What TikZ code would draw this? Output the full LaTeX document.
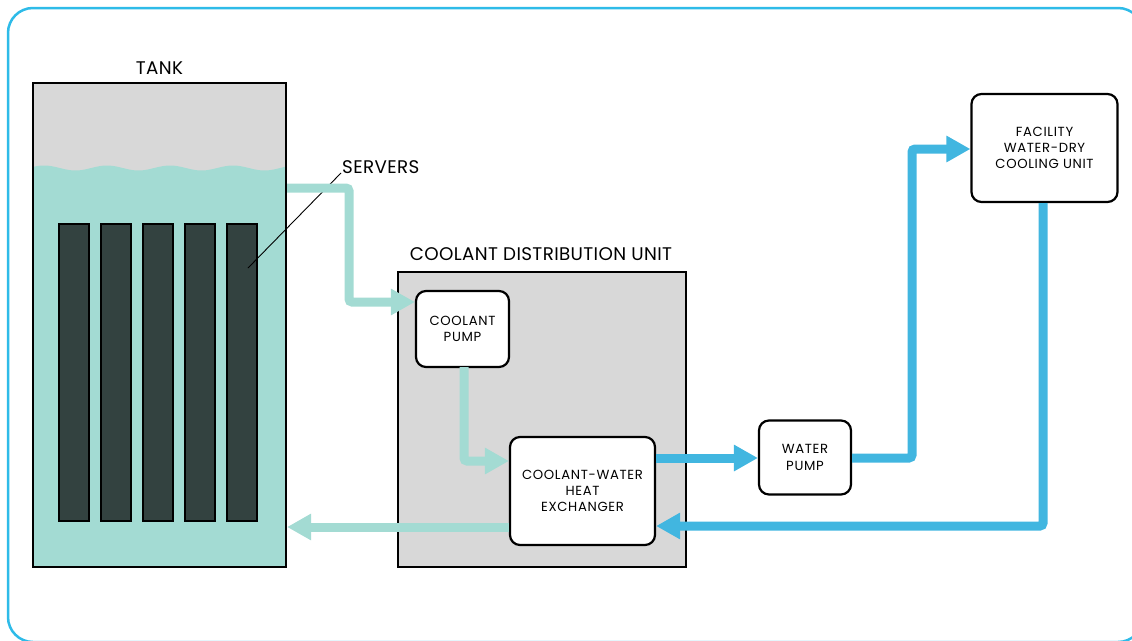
\documentclass[tikz,border=0pt]{standalone}
\usepackage{fontspec}
\setmainfont{Poppins}
\newfontfamily\titlefont[LetterSpace=2]{Poppins}
\newfontfamily\unitfont[LetterSpace=5]{Poppins}
\usetikzlibrary{arrows.meta}
\definecolor{teal1}{HTML}{A3DBD3}
\definecolor{blue1}{HTML}{41B6E0}
\definecolor{frameblue}{HTML}{2EBBE8}
\definecolor{srv}{HTML}{334240}
\definecolor{gray1}{HTML}{D8D8D8}
\tikzset{
  unit/.style={draw=black, line width=2.2pt, fill=white, rounded corners=10pt, align=center, font=\unitfont\fontsize{13.2}{16.2}\selectfont, inner sep=0pt},
  title/.style={font=\titlefont\fontsize{18.3}{20}\selectfont, inner sep=0pt},
  tealflow/.style={draw=teal1, line width=9pt, rounded corners=3pt, -{Triangle[width=25pt,length=24pt]}},
  blueflow/.style={draw=blue1, line width=9pt, rounded corners=3pt, -{Triangle[width=25pt,length=24pt]}},
  server/.style={draw=black, line width=1.2pt, fill=srv},
}
\begin{document}
\begin{tikzpicture}[x=1pt,y=-1pt]
\useasboundingbox (0,0) rectangle (1132,640);
\clip (0,0) rectangle (1132,640);
% outer frame
\draw[frameblue, line width=2.5pt, rounded corners=25pt] (8,8) rectangle (1143,642);
% tank
\fill[gray1] (33,83) rectangle (286,567);
\fill[teal1] plot[domain=33:286, samples=80] (\x, {168-2.5*cos(5.714*(\x-107))}) -- (286,567) -- (33,567) -- cycle;
\node[draw=black, line width=2.2pt, minimum width=253pt, minimum height=484pt, inner sep=0pt] (tank) at (159.5,325) {};
\node[title] (tanklbl) at (159.5,68) {TANK};
% servers
\foreach \i/\x in {1/74, 2/116, 3/158, 4/200, 5/242}{
  \node[server, minimum width=30pt, minimum height=297pt, inner sep=0pt] (s\i) at (\x,372.5) {};
}
\node[title, anchor=west] (serverslbl) at (342,167) {SERVERS};
\coordinate (sl) at (341,173);
\coordinate (sp) at (248,268);
\draw[black, line width=0.9pt] (sl) -- (sp);
% CDU
\node[draw=black, line width=2.2pt, fill=gray1, minimum width=288pt, minimum height=295pt, inner sep=0pt] (cdu) at (542,419.5) {};
\node[title] (cdulbl) at (541,254) {COOLANT DISTRIBUTION UNIT};
% units
\node[unit, minimum width=93pt, minimum height=76pt] (pump) at (462.5,329) {COOLANT\\PUMP};
\node[unit, minimum width=145pt, minimum height=108pt] (hx) at (582.5,491) {COOLANT-WATER\\HEAT\\EXCHANGER};
\node[unit, minimum width=92pt, minimum height=74pt] (wp) at (805,457.5) {WATER\\PUMP};
\node[unit, minimum width=146pt, minimum height=108pt] (fac) at (1044.5,148) {FACILITY\\WATER-DRY\\COOLING UNIT};
% coolant flows
\draw[tealflow] (tank.east |- 0,188) -- (349,188) -- (349,302) -- (pump.west |- 0,302);
\draw[tealflow] (464,367) -- (464,461) -- (hx.west |- 0,461);
\draw[tealflow] (hx.west |- 0,527) -- (tank.east |- 0,527);
% water flows
\draw[blueflow] (hx.east |- 0,458) -- (wp.west |- 0,458);
\draw[blueflow] (wp.east |- 0,458) -- (912,458) -- (912,149) -- (fac.west |- 0,149);
\draw[blueflow] (fac.south -| 1043,0) -- (1043,526) -- (hx.east |- 0,526);
\end{tikzpicture}
\end{document}
